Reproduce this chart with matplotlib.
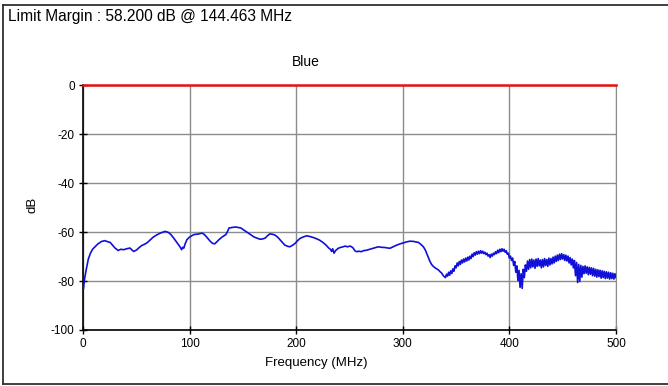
import matplotlib
matplotlib.use("Agg")
import matplotlib.pyplot as plt
from matplotlib.lines import Line2D

plt.rcParams["font.family"] = ["Liberation Sans", "DejaVu Sans"]
plt.rcParams["axes.unicode_minus"] = False

# measured trace, smooth part (MHz, dB)
freq_low = [0.5, 1.5, 3, 5, 7, 9, 11.5, 14, 17.5, 20.5, 23, 25.5, 28, 30, 33, 35.5, 38, 41, 44, 46,
            47.5, 49, 50.5, 53, 55, 57.5, 60, 63, 66, 69, 72.5, 75, 77, 80, 82.5, 85, 87.5, 89.5, 91,
            92.5, 93.5, 94.5, 96, 97.5, 100, 104, 108, 111.8, 113.5, 115, 117, 119.5, 121.5, 123.5,
            125.5, 127.5, 130.5, 134, 135.5, 137, 140, 143, 145.5, 148, 151, 154, 157, 160.5, 163,
            166, 168.5, 171, 173, 175.4, 178, 180, 182.5, 184.6, 187, 189.3, 192, 194, 196.5, 199,
            201, 203.5, 206.5, 209.7, 213, 216, 219, 222, 225, 228, 230.5, 232, 233.3, 234.2, 235.5,
            237, 239.5, 242, 244, 245.8, 248, 250.5, 252, 253.6, 255, 256.7, 259, 261, 263, 266, 269,
            273, 277, 280, 283.4, 286, 288, 291, 294.3, 297.5, 300.5, 303.5, 306.8, 310, 314.6, 317,
            319.3, 321, 322.4, 324, 325.5, 327, 328.6, 331, 333.3, 335, 336.4, 338]
level_low = [-83, -79, -75.4, -71, -68.6, -67, -65.9, -64.8, -63.8, -63.5, -63.9, -64.2, -65.5, -66.5,
             -67.5, -67.0, -67.2, -66.8, -66.5, -67.3, -67.9, -67.6, -67.2, -66.2, -65.5, -65.0, -64.4,
             -63.2, -62.0, -61.2, -60.4, -60.0, -59.7, -60.1, -61.0, -62.4, -63.9, -65.1, -66.0, -67.2,
             -66.2, -66.6, -64.6, -63.1, -62.0, -61.0, -60.8, -60.4, -60.9, -61.5, -62.5, -63.8, -64.6,
             -64.8, -64.0, -63.1, -62.0, -61.0, -59.8, -58.3, -58.1, -57.9, -58.1, -58.3, -59.2, -60.1,
             -61.0, -62.0, -62.4, -62.9, -62.8, -62.4, -61.5, -60.7, -60.9, -61.2, -62.0, -63.0, -64.2,
             -65.3, -65.8, -66.0, -65.4, -64.6, -63.6, -62.6, -62.0, -61.5, -61.8, -62.2, -62.7, -63.3,
             -64.2, -65.3, -66.5, -67.0, -67.9, -66.8, -68.6, -67.5, -66.6, -66.2, -66.0, -65.7, -66.0,
             -65.7, -66.0, -66.6, -67.6, -68.0, -67.8, -68.0, -67.6, -67.4, -67.0, -66.5, -66.0, -66.2,
             -66.3, -66.5, -66.6, -66.0, -65.3, -64.8, -64.4, -64.0, -63.7, -63.8, -64.2, -65.0, -66.0,
             -67.2, -68.7, -70.3, -72.0, -73.2, -74.0, -74.8, -75.4, -76.2, -76.7, -77.8]

# measured trace, noisy part (1 MHz steps, 340..500)
freq_high = list(range(340, 501))
level_high = [
    -78.6, -77.2, -78.0, -76.4, -77.6, -75.8, -76.9, -75.0, -76.0, -73.8,
    -74.6, -72.6, -73.8, -72.0, -73.2, -71.4, -72.6, -71.0, -72.2, -70.6,
    -71.8, -70.2, -71.4, -69.8, -70.8, -69.0, -70.0, -68.4, -69.4, -68.0,
    -69.0, -67.8, -68.8, -67.6, -68.6, -67.8, -68.8, -68.2, -69.2, -68.6,
    -69.8, -69.2, -70.4, -69.0, -69.8, -68.6, -69.2, -68.0, -68.8, -67.4,
    -68.4, -67.0, -68.0, -66.8, -67.8, -67.0, -68.2, -67.6, -69.0, -68.6,
    -70.6, -69.8, -71.6, -70.6, -73.6, -72.0, -76.4, -73.8, -79.8, -75.6,
    -82.6, -77.0, -83.0, -75.2, -78.6, -73.4, -76.0, -71.8, -75.2, -71.2,
    -74.6, -71.0, -74.2, -71.4, -74.8, -71.0, -74.0, -70.8, -73.8, -71.4,
    -74.6, -71.2, -74.2, -70.8, -73.6, -71.2, -74.0, -70.6, -73.4, -70.8,
    -73.0, -70.2, -72.6, -69.8, -72.0, -69.4, -71.6, -69.0, -71.2, -68.8,
    -71.0, -69.2, -71.6, -69.4, -71.8, -69.8, -72.6, -70.4, -73.4, -71.0,
    -74.6, -71.6, -77.8, -72.4, -80.6, -73.2, -80.2, -73.6, -78.4, -74.0,
    -77.0, -73.8, -76.8, -74.2, -77.4, -74.4, -77.2, -74.6, -77.8, -74.8,
    -78.0, -75.2, -78.4, -75.4, -78.2, -75.6, -78.8, -75.8, -78.6, -76.0,
    -79.0, -76.2, -78.8, -76.4, -79.2, -76.6, -79.0, -76.8, -79.2, -77.0,
    -78.6,
]

limit_freq = [0, 500]
limit_level = [0, 0]

x_ticks = [0, 100, 200, 300, 400, 500]
y_ticks = [0, -20, -40, -60, -80, -100]

fig = plt.figure(figsize=(6.68, 3.86), dpi=100)
ax = fig.add_axes([83 / 668, 1 - 330 / 386, 533 / 668, (330 - 85.3) / 386])

ax.plot(freq_low + freq_high, level_low + level_high, color="#1010d8", lw=1.2, zorder=3)
ax.plot(limit_freq, limit_level, color="#e81010", lw=1.8, zorder=4, clip_on=False)

ax.set_xlim(0, 500)
ax.set_ylim(-100, 0)
ax.set_xticks(x_ticks)
ax.set_yticks(y_ticks)
ax.grid(True, color="#8c8c8c", lw=1.0)
ax.tick_params(direction="inout", length=6, width=1, labelsize=8.5, colors="black", pad=3)

ax.spines["top"].set_visible(False)
ax.spines["right"].set_color("#8c8c8c")
ax.spines["left"].set_linewidth(1.2)
ax.spines["bottom"].set_linewidth(1.2)

fig.text(316 / 668, 1 - 363 / 386, "Frequency (MHz)", ha="center", va="center", fontsize=9.5)
fig.text(33 / 668, 1 - 205 / 386, "dB", ha="center", va="center", rotation=90, fontsize=9.5)
fig.text(306 / 668, 1 - 62 / 386, "Blue", ha="center", va="center", fontsize=10)
fig.text(8 / 668, 1 - 17 / 386, "Limit Margin : 58.200 dB @ 144.463 MHz", ha="left", va="center", fontsize=11.2)

# outer frame
for xs, ys in [([3, 3], [5, 384]), ([3, 670], [5, 5]), ([3, 670], [384, 384])]:
    fig.add_artist(Line2D([x / 668 for x in xs], [1 - y / 386 for y in ys], color="#303030", lw=1.3))

fig.savefig("out.png", dpi=100)
